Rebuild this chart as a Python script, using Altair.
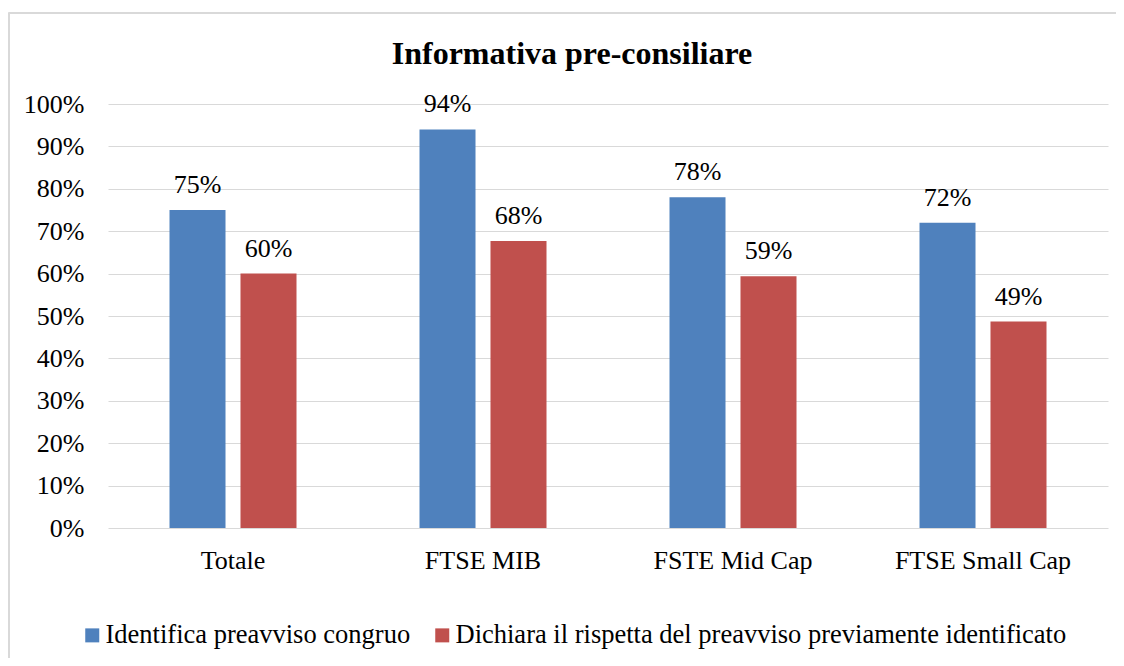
import altair as alt
import pandas as pd

categories = ["Totale", "FTSE MIB", "FSTE Mid Cap", "FTSE Small Cap"]
series = ["Identifica preavviso congruo",
          "Dichiara il rispetta del preavviso previamente identificato"]
identifica = [0.75, 0.94, 0.78, 0.72]
dichiara = [0.60, 0.677, 0.594, 0.487]
colors = ["#4F81BD", "#C0504D"]
y_ticks = [i / 10 for i in range(11)]

rows = []
for c, a, b in zip(categories, identifica, dichiara):
    rows.append({"cat": c, "serie": series[0], "val": a})
    rows.append({"cat": c, "serie": series[1], "val": b})
df = pd.DataFrame(rows)

FONT = "'Liberation Serif', 'Times New Roman', 'DejaVu Serif', serif"

x = alt.X("cat:N", sort=categories, title=None,
          scale=alt.Scale(paddingInner=0.492, paddingOuter=0.246),
          axis=alt.Axis(labelAngle=0, ticks=False, domain=False,
                        labelPadding=19, labelFontSize=26, labelFont=FONT,
                        labelColor="black"))
xo = alt.XOffset("serie:N", sort=series,
                 scale=alt.Scale(paddingInner=0.211, paddingOuter=0))
y = alt.Y("val:Q", title=None,
          scale=alt.Scale(domain=[0, 1], nice=False),
          axis=alt.Axis(values=y_ticks, format=".0%", ticks=False, domain=False,
                        grid=True, gridColor="#d9d9d9", gridWidth=1.2,
                        labelPadding=24, labelFontSize=26, labelFont=FONT,
                        labelColor="black"))

bars = alt.Chart(df).mark_bar().encode(
    x=x, xOffset=xo, y=y,
    color=alt.Color("serie:N", sort=series,
                    scale=alt.Scale(domain=series, range=colors),
                    legend=alt.Legend(title=None, orient="none", direction="horizontal",
                                      legendX=-29, legendY=518, columns=2,
                                      symbolType="square", symbolSize=196,
                                      symbolStrokeWidth=0, labelOffset=0,
                                      columnPadding=18, labelFontSize=26.5,
                                      labelFont=FONT, labelColor="black",
                                      labelLimit=800)),
)

labels = alt.Chart(df).mark_text(baseline="alphabetic", dy=-17, fontSize=26,
                                 font=FONT, color="black").encode(
    x=alt.X("cat:N", sort=categories), xOffset=xo,
    y="val:Q", text=alt.Text("val:Q", format=".0%"))

frame_v = alt.Chart(df).mark_rule(color="#d9d9d9", strokeWidth=1.5, clip=False).encode(
    x=alt.value(-99.2), y=alt.value(-91), y2=alt.value(600))
frame_h = alt.Chart(df).mark_rule(color="#d9d9d9", strokeWidth=1.5, clip=False).encode(
    x=alt.value(-99.2), x2=alt.value(1100), y=alt.value(-91))

chart = alt.layer(frame_v, frame_h, bars, labels).properties(
    width=1000, height=424,
    padding={"left": 100, "top": 96, "right": 8, "bottom": 130},
    autosize=alt.AutoSizeParams(type="none"),
    title=alt.TitleParams("Informativa pre-consiliare", fontSize=32, fontWeight="bold",
                          font=FONT, color="black", anchor="middle", dx=-36,
                          baseline="alphabetic", offset=-84),
).configure_view(stroke=None)

chart.save("out.html", embed_options={"renderer": "svg", "actions": False})
